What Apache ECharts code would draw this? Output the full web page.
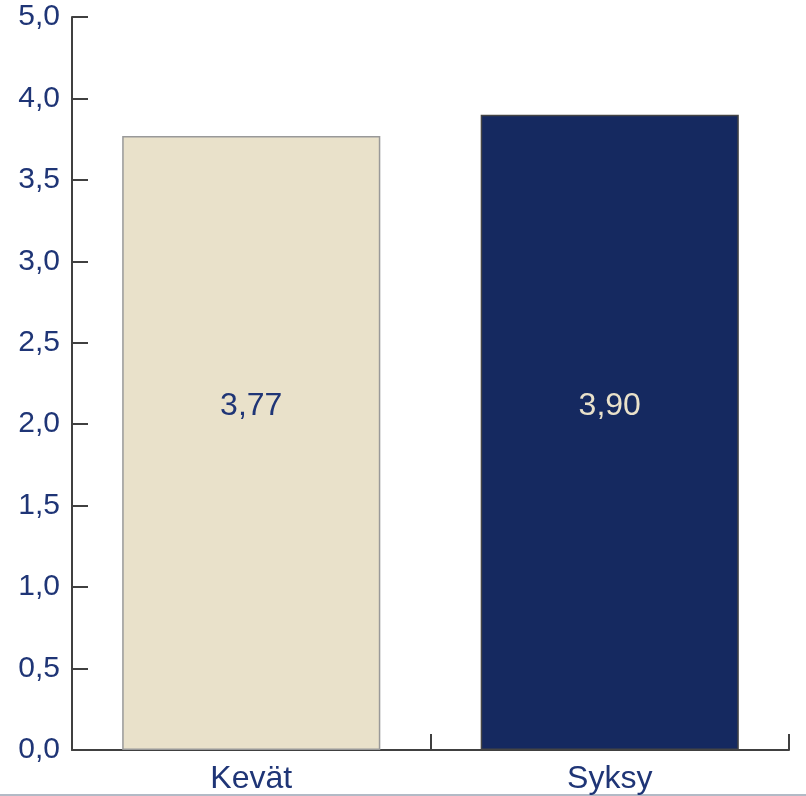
<!DOCTYPE html>
<html>
<head>
<meta charset="utf-8">
<script src="https://cdn.jsdelivr.net/npm/echarts@6/dist/echarts.min.js"></script>
<style>
html,body{margin:0;padding:0;background:#fff;}
#chart{width:806px;height:796px;}
</style>
</head>
<body>
<div id="chart"></div>
<script>
const categories = ['Kevät', 'Syksy'];
const values = [3.77, 3.90];
const tickLabels = ['0,0', '0,5', '1,0', '1,5', '2,0', '2,5', '3,0', '3,5', '4,0', '5,0'];
const barColors = ['#e9e1ca', '#152960'];
const barBorders = ['#999999', '#444444'];
const labelColors = ['#1f3576', '#e9e1ca'];

const chart = echarts.init(document.getElementById('chart'));
const fmt = v => v.toFixed(2).replace('.', ',');
chart.setOption({
  animation: false,
  backgroundColor: '#ffffff',
  grid: { left: 72, right: 17, top: 17, bottom: 46, containLabel: false },
  xAxis: {
    type: 'category',
    data: categories,
    boundaryGap: true,
    axisLine: { show: true, lineStyle: { color: '#404040', width: 2 } },
    axisTick: { show: true, inside: true, length: 16, alignWithLabel: false, lineStyle: { color: '#404040', width: 2 } },
    axisLabel: { color: '#1f3576', fontSize: 32, fontFamily: 'Liberation Sans, Arial, sans-serif', margin: 13 }
  },
  yAxis: {
    type: 'value',
    min: 0, max: 4.5, interval: 0.5,
    splitLine: { show: false },
    axisLine: { show: true, lineStyle: { color: '#404040', width: 2 } },
    axisTick: { show: true, inside: true, length: 16, lineStyle: { color: '#404040', width: 2 } },
    axisLabel: {
      color: '#1f3576', fontSize: 30, fontFamily: 'Liberation Sans, Arial, sans-serif', margin: 12,
      formatter: (v, i) => tickLabels[Math.round(v / 0.5)] ?? tickLabels[i]
    }
  },
  series: [{
    type: 'bar',
    barWidth: '72%',
    data: values.map((v, i) => ({
      value: v,
      itemStyle: { color: barColors[i], borderColor: barBorders[i], borderWidth: 1.5 },
      label: { color: labelColors[i] }
    })),
    label: {
      show: true,
      position: 'insideBottom',
      distance: 328,
      fontSize: 32,
      fontFamily: 'Liberation Sans, Arial, sans-serif',
      formatter: p => fmt(p.value)
    }
  }],
  graphic: [{
    type: 'rect',
    shape: { x: 0, y: 794, width: 806, height: 2 },
    style: { fill: '#b2bac6' },
    silent: true
  }]
});
</script>
</body>
</html>
